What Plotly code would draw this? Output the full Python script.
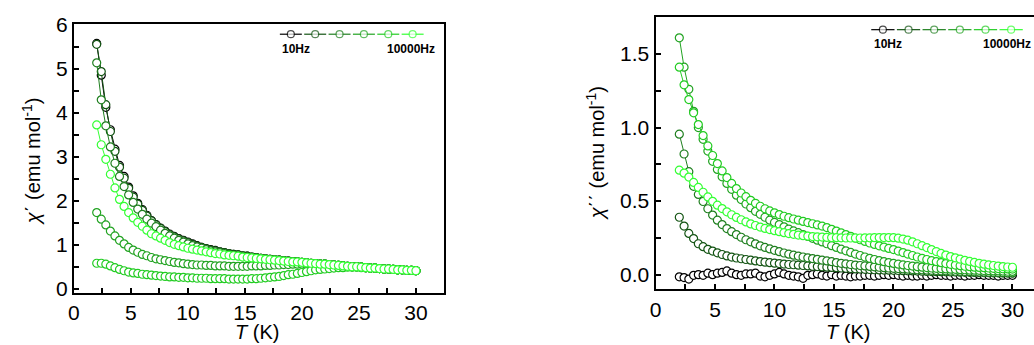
import plotly.graph_objects as go

# Temperature grid (K)
T = [2.0, 2.4, 2.8, 3.2, 3.6, 4.0, 4.4, 4.8, 5.2, 5.6,
     6.0, 6.4, 6.8, 7.2, 7.6, 8.0, 8.4, 8.8, 9.2, 9.6,
     10.0, 10.4, 10.8, 11.2, 11.6, 12.0, 12.4, 12.8, 13.2, 13.6,
     14.0, 14.4, 14.8, 15.2, 15.6, 16.0, 16.4, 16.8, 17.2, 17.6,
     18.0, 18.4, 18.8, 19.2, 19.6, 20.0, 20.4, 20.8, 21.2, 21.6,
     22.0, 22.4, 22.8, 23.2, 23.6, 24.0, 24.4, 24.8, 25.2, 25.6,
     26.0, 26.4, 26.8, 27.2, 27.6, 28.0, 28.4, 28.8, 29.2, 29.6,
     30.0]

# chi' (emu/mol) curves
chi1_s0 = [5.57, 4.85, 4.12, 3.61, 3.17, 2.80, 2.55, 2.31, 2.11, 1.94,
           1.80, 1.67, 1.55, 1.46, 1.38, 1.31, 1.24, 1.19, 1.14, 1.10,
           1.06, 1.02, 0.98, 0.94, 0.91, 0.89, 0.87, 0.84, 0.82, 0.80,
           0.78, 0.77, 0.75, 0.74, 0.72, 0.71, 0.69, 0.68, 0.67, 0.66,
           0.65, 0.64, 0.63, 0.62, 0.61, 0.60, 0.59, 0.58, 0.57, 0.56,
           0.56, 0.55, 0.54, 0.53, 0.52, 0.51, 0.50, 0.50, 0.49, 0.48,
           0.47, 0.47, 0.46, 0.45, 0.45, 0.44, 0.43, 0.43, 0.42, 0.42,
           0.41]
chi1_s1 = [5.55, 4.93, 4.18, 3.57, 3.12, 2.76, 2.51, 2.28, 2.08, 1.92,
           1.78, 1.65, 1.54, 1.45, 1.37, 1.30, 1.23, 1.18, 1.13, 1.09,
           1.05, 1.01, 0.97, 0.94, 0.91, 0.88, 0.86, 0.84, 0.82, 0.80,
           0.78, 0.77, 0.75, 0.74, 0.72, 0.71, 0.69, 0.68, 0.67, 0.66,
           0.65, 0.64, 0.63, 0.62, 0.61, 0.60, 0.59, 0.58, 0.57, 0.56,
           0.56, 0.55, 0.54, 0.53, 0.52, 0.51, 0.50, 0.50, 0.49, 0.48,
           0.47, 0.47, 0.46, 0.45, 0.45, 0.44, 0.43, 0.43, 0.42, 0.42,
           0.41]
chi1_s2 = [5.13, 4.29, 3.70, 3.22, 2.85, 2.55, 2.32, 2.13, 1.96, 1.81,
           1.69, 1.58, 1.49, 1.41, 1.33, 1.26, 1.20, 1.15, 1.10, 1.06,
           1.02, 0.98, 0.95, 0.92, 0.89, 0.86, 0.84, 0.82, 0.80, 0.78,
           0.76, 0.75, 0.73, 0.72, 0.71, 0.70, 0.69, 0.68, 0.67, 0.66,
           0.65, 0.64, 0.63, 0.62, 0.61, 0.60, 0.59, 0.58, 0.57, 0.56,
           0.56, 0.55, 0.54, 0.53, 0.52, 0.51, 0.50, 0.50, 0.49, 0.48,
           0.47, 0.47, 0.46, 0.45, 0.45, 0.44, 0.43, 0.43, 0.42, 0.42,
           0.41]
chi1_s3 = [1.73, 1.58, 1.45, 1.31, 1.20, 1.10, 1.02, 0.94, 0.88, 0.83,
           0.78, 0.75, 0.71, 0.68, 0.66, 0.64, 0.62, 0.60, 0.59, 0.57,
           0.56, 0.55, 0.54, 0.54, 0.53, 0.53, 0.52, 0.52, 0.52, 0.51,
           0.51, 0.51, 0.51, 0.51, 0.52, 0.52, 0.52, 0.53, 0.53, 0.54,
           0.54, 0.55, 0.55, 0.56, 0.56, 0.56, 0.57, 0.57, 0.57, 0.56,
           0.56, 0.55, 0.54, 0.53, 0.52, 0.51, 0.50, 0.50, 0.49, 0.48,
           0.47, 0.47, 0.46, 0.45, 0.45, 0.44, 0.43, 0.43, 0.42, 0.42,
           0.41]
chi1_s4 = [0.58, 0.58, 0.56, 0.52, 0.48, 0.44, 0.41, 0.38, 0.36, 0.35,
           0.33, 0.32, 0.31, 0.30, 0.29, 0.28, 0.27, 0.27, 0.26, 0.26,
           0.25, 0.25, 0.24, 0.24, 0.24, 0.23, 0.23, 0.23, 0.23, 0.22,
           0.22, 0.22, 0.22, 0.22, 0.23, 0.23, 0.24, 0.25, 0.26, 0.27,
           0.28, 0.30, 0.32, 0.33, 0.35, 0.37, 0.39, 0.41, 0.43, 0.44,
           0.45, 0.46, 0.47, 0.48, 0.48, 0.49, 0.49, 0.49, 0.48, 0.48,
           0.47, 0.47, 0.46, 0.45, 0.45, 0.44, 0.43, 0.43, 0.42, 0.42,
           0.41]
chi1_s5 = [3.72, 3.27, 2.94, 2.60, 2.29, 2.03, 1.87, 1.73, 1.61, 1.51,
           1.42, 1.33, 1.25, 1.20, 1.15, 1.10, 1.05, 1.01, 0.98, 0.95,
           0.92, 0.90, 0.88, 0.86, 0.84, 0.82, 0.80, 0.79, 0.77, 0.76,
           0.75, 0.74, 0.72, 0.71, 0.70, 0.69, 0.68, 0.67, 0.66, 0.65,
           0.64, 0.63, 0.62, 0.61, 0.61, 0.60, 0.59, 0.58, 0.57, 0.56,
           0.56, 0.55, 0.54, 0.53, 0.52, 0.51, 0.50, 0.50, 0.49, 0.48,
           0.47, 0.47, 0.46, 0.45, 0.45, 0.44, 0.43, 0.43, 0.42, 0.42,
           0.41]

# chi'' (emu/mol) curves
chi2_s0 = [-0.015, -0.02, -0.03, -0.005, 0.0, -0.005, 0.01, 0.0, 0.01, 0.015,
           0.025, 0.01, 0.0, -0.005, 0.005, 0.005, 0.01, -0.01, -0.015, -0.005,
           0.005, 0.015, 0.005, -0.005, -0.01, -0.015, -0.025, -0.005, 0.0, 0.005,
           -0.005, -0.01, 0.0, -0.01, -0.005, -0.01, -0.015, -0.01, -0.01, -0.005,
           -0.005, -0.01, -0.005, 0.0, -0.005, 0.0, -0.005, -0.01, -0.005, -0.01,
           -0.01, -0.005, -0.01, -0.005, 0.0, -0.005, -0.005, -0.01, -0.005, -0.005,
           -0.01, -0.005, -0.005, 0.0, -0.005, -0.005, -0.005, -0.01, -0.005, -0.005,
           -0.005]
chi2_s1 = [0.39, 0.33, 0.28, 0.245, 0.21, 0.19, 0.172, 0.16, 0.148, 0.137,
           0.127, 0.119, 0.113, 0.108, 0.103, 0.098, 0.093, 0.089, 0.085, 0.081,
           0.078, 0.075, 0.072, 0.069, 0.067, 0.064, 0.062, 0.059, 0.057, 0.055,
           0.053, 0.051, 0.049, 0.047, 0.045, 0.043, 0.041, 0.039, 0.038, 0.036,
           0.035, 0.033, 0.032, 0.031, 0.030, 0.029, 0.028, 0.027, 0.026, 0.025,
           0.024, 0.023, 0.022, 0.021, 0.020, 0.020, 0.019, 0.018, 0.018, 0.017,
           0.016, 0.016, 0.015, 0.014, 0.014, 0.013, 0.012, 0.012, 0.011, 0.011,
           0.010]
chi2_s2 = [0.955, 0.82, 0.70, 0.60, 0.545, 0.497, 0.448, 0.405, 0.37, 0.34,
           0.313, 0.292, 0.272, 0.254, 0.237, 0.223, 0.209, 0.196, 0.185, 0.175,
           0.165, 0.156, 0.147, 0.139, 0.132, 0.126, 0.120, 0.114, 0.109, 0.104,
           0.098, 0.093, 0.088, 0.082, 0.077, 0.073, 0.069, 0.065, 0.062, 0.059,
           0.056, 0.053, 0.050, 0.047, 0.045, 0.043, 0.041, 0.039, 0.037, 0.035,
           0.033, 0.032, 0.030, 0.029, 0.028, 0.026, 0.025, 0.024, 0.023, 0.022,
           0.021, 0.020, 0.019, 0.018, 0.017, 0.016, 0.015, 0.014, 0.013, 0.012,
           0.012]
chi2_s3 = [1.61, 1.41, 1.26, 1.11, 1.00, 0.92, 0.84, 0.77, 0.715, 0.665,
           0.62, 0.58, 0.54, 0.51, 0.48, 0.455, 0.43, 0.41, 0.39, 0.37,
           0.355, 0.34, 0.325, 0.31, 0.297, 0.285, 0.272, 0.26, 0.247, 0.234,
           0.222, 0.21, 0.197, 0.185, 0.173, 0.162, 0.151, 0.14, 0.13, 0.12,
           0.111, 0.103, 0.095, 0.088, 0.082, 0.076, 0.071, 0.066, 0.062, 0.058,
           0.054, 0.051, 0.048, 0.045, 0.043, 0.041, 0.039, 0.037, 0.036, 0.034,
           0.033, 0.031, 0.030, 0.029, 0.028, 0.027, 0.026, 0.025, 0.024, 0.023,
           0.022]
chi2_s4 = [1.41, 1.29, 1.19, 1.10, 1.02, 0.945, 0.875, 0.81, 0.755, 0.705,
           0.66, 0.62, 0.585, 0.555, 0.53, 0.505, 0.485, 0.465, 0.448, 0.433,
           0.42, 0.408, 0.397, 0.387, 0.378, 0.37, 0.362, 0.354, 0.346, 0.338,
           0.33, 0.32, 0.308, 0.296, 0.284, 0.272, 0.26, 0.248, 0.237, 0.226,
           0.215, 0.205, 0.196, 0.187, 0.178, 0.17, 0.16, 0.15, 0.14, 0.13,
           0.12, 0.111, 0.103, 0.095, 0.088, 0.081, 0.075, 0.07, 0.065, 0.061,
           0.057, 0.054, 0.051, 0.049, 0.047, 0.045, 0.043, 0.041, 0.040, 0.039,
           0.038]
chi2_s5 = [0.71, 0.69, 0.663, 0.627, 0.593, 0.56, 0.528, 0.498, 0.472, 0.449,
           0.427, 0.407, 0.389, 0.373, 0.358, 0.345, 0.334, 0.323, 0.314, 0.306,
           0.299, 0.292, 0.285, 0.279, 0.274, 0.269, 0.265, 0.262, 0.259, 0.257,
           0.255, 0.253, 0.252, 0.251, 0.250, 0.249, 0.249, 0.249, 0.249, 0.250,
           0.250, 0.251, 0.252, 0.252, 0.252, 0.251, 0.248, 0.242, 0.234, 0.223,
           0.210, 0.197, 0.184, 0.170, 0.157, 0.144, 0.133, 0.123, 0.114, 0.105,
           0.097, 0.090, 0.083, 0.077, 0.071, 0.066, 0.062, 0.058, 0.055, 0.052,
           0.050]

colors = ['#000000', '#135413', '#1f7f1f', '#22a322', '#22cc22', '#33ff33']
legend_labels = ['10Hz', '10000Hz']

FONT = 'Arial, Liberation Sans, sans-serif'
W, H = 1034, 345

fig = go.Figure()


def add_series(x, y, color, xa, ya):
    fig.add_trace(go.Scatter(
        x=x, y=y, mode='lines+markers', xaxis=xa, yaxis=ya,
        line=dict(color=color, width=1),
        marker=dict(symbol='circle', size=8, color='white',
                    line=dict(color=color, width=1.2)),
        showlegend=False, hoverinfo='skip'))


left = [(chi1_s0, colors[0]), (chi1_s1, colors[1]), (chi1_s2, colors[2]),
        (chi1_s3, colors[3]), (chi1_s4, colors[4]), (chi1_s5, colors[5])]
for ys, c in left:
    add_series(T, ys, c, 'x', 'y')

right = [(chi2_s0, colors[0]), (chi2_s1, colors[1]), (chi2_s2, colors[2]),
         (chi2_s3, colors[3]), (chi2_s4, colors[4]), (chi2_s5, colors[5])]
for ys, c in right:
    add_series(T, ys, c, 'x2', 'y2')


# custom legend rows (pixel coordinates on a hidden overlay axis)
def add_legend(x_start, step, y, lab_y, right_label_x, right_anchor):
    for i, c in enumerate(colors):
        cx = x_start + step * i
        fig.add_trace(go.Scatter(
            x=[cx - step / 2 + 1.2, cx, cx + step / 2 - 1.2], y=[y, y, y],
            mode='lines+markers', xaxis='x3', yaxis='y3',
            line=dict(color=c, width=1.2),
            marker=dict(symbol='circle', size=[0, 7, 0], color='white',
                        line=dict(color=c, width=1.2)),
            showlegend=False, hoverinfo='skip'))
    fig.add_annotation(x=x_start - step / 2 + 1.5, y=lab_y, xref='x3', yref='y3',
                       text='<b>' + legend_labels[0] + '</b>', showarrow=False,
                       xanchor='left', yanchor='middle',
                       font=dict(family=FONT, size=12, color='black'))
    fig.add_annotation(x=right_label_x, y=lab_y, xref='x3', yref='y3',
                       text='<b>' + legend_labels[1] + '</b>', showarrow=False,
                       xanchor=right_anchor, yanchor='middle',
                       font=dict(family=FONT, size=12, color='black'))


add_legend(286.5, 24.5, 23.5, 39, 434, 'right')
add_legend(882, 25.8, 18.7, 34.2, 981, 'left')

# axis titles
title_font = dict(family=FONT, size=20, color='black')
fig.add_annotation(x=252, y=339, xref='x3', yref='y3', text='<i>T</i> (K)',
                   showarrow=False, font=title_font)
fig.add_annotation(x=847, y=339, xref='x3', yref='y3', text='<i>T</i> (K)',
                   showarrow=False, font=title_font)
fig.add_annotation(x=25, y=158, xref='x3', yref='y3', textangle=-90,
                   text='<i>χ</i>΄ (emu mol<sup>-1</sup>)',
                   showarrow=False, font=title_font)
fig.add_annotation(x=593, y=150, xref='x3', yref='y3', textangle=-90,
                   text='<i>χ</i>΄΄ (emu mol<sup>-1</sup>)',
                   showarrow=False, font=title_font)

tick_font = dict(family=FONT, size=21, color='black')
common = dict(showgrid=False, zeroline=False, showline=True, linecolor='black',
              linewidth=2, ticks='inside', ticklen=5, tickwidth=1.5,
              tickcolor='black', tickfont=tick_font)
minor_x = dict(dtick=2.5, ticks='inside', ticklen=5, tickwidth=1.5, tickcolor='black')

fig.update_layout(
    width=W, height=H, margin=dict(l=0, r=0, t=0, b=0),
    paper_bgcolor='white', plot_bgcolor='rgba(0,0,0,0)',
    showlegend=False,
    xaxis=dict(domain=[68.3 / W, 441 / W], range=[0, 32.5], tick0=0, dtick=5,
               minor=minor_x, mirror=True, anchor='y', **common),
    yaxis=dict(domain=[(H - 297.6) / H, (H - 13.2) / H], range=[-0.1, 6], tick0=0,
               dtick=1, minor=dict(dtick=0.5, ticks='inside', ticklen=5,
                                   tickwidth=1.5, tickcolor='black'),
               mirror=True, anchor='x', **common),
    xaxis2=dict(domain=[653.3 / W, 1.0], range=[0, 31.81], tick0=0, dtick=5,
                minor=minor_x, mirror=True, anchor='y2', **common),
    yaxis2=dict(domain=[(H - 293.5) / H, (H - 5.5) / H], range=[-0.1, 1.75], tick0=0,
                dtick=0.5, tickformat='.1f',
                minor=dict(dtick=0.25, ticks='inside', ticklen=5, tickwidth=1.5,
                           tickcolor='black'),
                anchor='x2', **common),
    xaxis3=dict(domain=[0, 1], range=[0, W], visible=False, anchor='y3',
                fixedrange=True),
    yaxis3=dict(domain=[0, 1], range=[H, 0], visible=False, anchor='x3',
                fixedrange=True),
)

fig.write_html('out.html')
